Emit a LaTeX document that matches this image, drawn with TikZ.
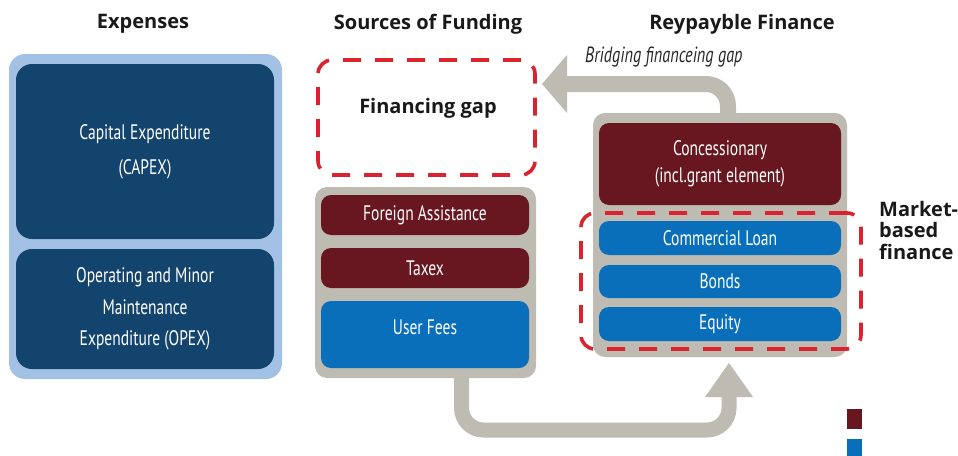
\documentclass[tikz,border=0pt]{standalone}
\usepackage{fontspec}
\setmainfont{Open Sans}
\newfontfamily\condf[FakeStretch=0.74]{PT Sans}
\usetikzlibrary{arrows.meta}
\definecolor{lblue}{HTML}{A3C1E5}
\definecolor{dblue}{HTML}{13446E}
\definecolor{mblue}{HTML}{0A6FBA}
\definecolor{dred}{HTML}{68161F}
\definecolor{gbox}{HTML}{BEBBB3}
\definecolor{rdash}{HTML}{D9242F}
\tikzset{
  head/.style={font=\fontsize{20}{22}\selectfont\bfseries, text=black!90},
  inbox/.style={rounded corners=10pt, minimum width=#1, inner sep=0pt, text=white, align=center,
     font=\condf\fontsize{21}{35}\selectfont},
  graybox/.style={fill=gbox, rounded corners=12pt, inner sep=0pt},
  dashbox/.style={draw=rdash, line width=3.6pt, rounded corners=14pt, dash pattern=on 18pt off 14pt, inner sep=0pt}
}
\begin{document}
\begin{tikzpicture}[x=1pt,y=-1pt]
\useasboundingbox (0,0) rectangle (958,455);
% headings
\node[head] (h1) at (143,24) {Expenses};
\node[head] (h2) at (428,24) {Sources of Funding};
\node[head] (h3) at (742,24) {Reypayble Finance};
% arrows (behind boxes)
\coordinate (a0) at (728,113);
\coordinate (a1) at (728,84);
\coordinate (tipA) at (542,84);
\draw[draw=gbox, line width=16pt, rounded corners=22pt] (a0) -- (a1) -- (567,84);
\fill[gbox] (567,55) -- (tipA) -- (567,113) -- cycle;
\coordinate (b0) at (461.5,375);
\coordinate (b1) at (461.5,430);
\coordinate (b2) at (729,430);
\coordinate (tipB) at (729,363);
\draw[draw=gbox, line width=15pt, rounded corners=22pt] (b0) -- (b1) -- (b2) -- (729,397);
\fill[gbox] (705,397) -- (tipB) -- (753,397) -- cycle;
% Expenses
\node[fill=lblue, rounded corners=16pt, minimum width=273pt, minimum height=325pt, inner sep=0pt] (exp) at (145.5,216.5) {};
\node[inbox=258pt, fill=dblue, minimum height=175pt, rounded corners=16pt] (capex) at (145,151.5) {Capital Expenditure\\(CAPEX)};
\node[inbox=258pt, fill=dblue, minimum height=120pt, rounded corners=16pt, font=\condf\fontsize{21}{31.5}\selectfont] (opex) at (145,309) {Operating and Minor\\Maintenance\\Expenditure (OPEX)};
% Sources of funding
\node[dashbox, minimum width=217pt, minimum height=115pt] (gap) at (426.5,117.5) {};
\node[font=\fontsize{20}{22}\selectfont\bfseries, text=black!90] (gapt) at (428,108) {Financing gap};
\node[graybox, minimum width=221pt, minimum height=191pt] (gL) at (425.5,282.5) {};
\node[inbox=208pt, fill=dred, minimum height=40pt] (fa) at (425,215) {Foreign Assistance};
\node[inbox=208pt, fill=dred, minimum height=40pt] (tx) at (425,268) {Taxex};
\node[inbox=208pt, fill=mblue, minimum height=67pt] (uf) at (425,334.5) {\raisebox{14pt}{User Fees}};
% Repayable finance
\node[graybox, minimum width=254pt, minimum height=244pt] (gR) at (720,235) {};
\node[inbox=242pt, fill=dred, minimum height=82pt, font=\condf\fontsize{21}{27}\selectfont] (con) at (720,164) {Concessionary\\(incl.grant element)};
\node[inbox=242pt, fill=mblue, minimum height=34pt] (cl) at (720,238) {Commercial Loan};
\node[inbox=242pt, fill=mblue, minimum height=33pt] (bo) at (720,281.5) {Bonds};
\node[inbox=242pt, fill=mblue, minimum height=34pt] (eq) at (720,324) {Equity};
\node[dashbox, minimum width=280pt, minimum height=136pt] (mkt) at (721,281) {};
\node[anchor=north west, align=left, inner sep=0pt, font=\fontsize{20}{21.5}\selectfont\bfseries, text=black!90] (mktt) at (879,201) {Market-\\based\\finance};
\node[anchor=west, inner sep=0pt, font=\condf\itshape\fontsize{22}{24}\selectfont, text=black!85] (brid) at (585,57) {Bridging financeing gap};
% legend
\node[fill=dred, minimum width=15pt, minimum height=20pt, inner sep=0pt] (lg1) at (854.5,419) {};
\node[fill=mblue, minimum width=15pt, minimum height=20pt, inner sep=0pt, anchor=north] (lg2) at (854.5,439) {};
\end{tikzpicture}
\end{document}
